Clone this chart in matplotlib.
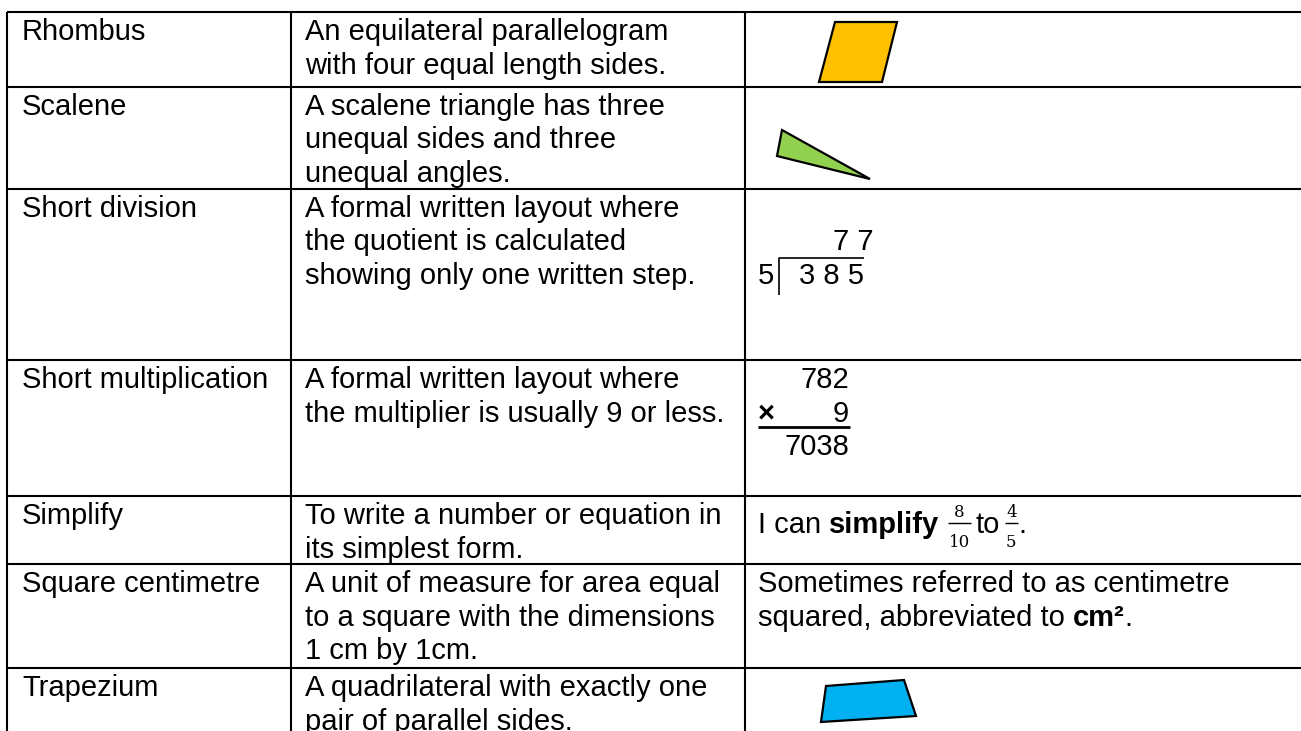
import matplotlib
matplotlib.use('Agg')
import matplotlib.pyplot as plt
from matplotlib.patches import Polygon

plt.rcParams['font.family'] = ['Liberation Sans', 'DejaVu Sans']

# table content
terms = ["Rhombus", "Scalene", "Short division", "Short multiplication",
         "Simplify", "Square centimetre", "Trapezium"]
definitions = [
    ["An equilateral parallelogram", "with four equal length sides."],
    ["A scalene triangle has three", "unequal sides and three", "unequal angles."],
    ["A formal written layout where", "the quotient is calculated",
     "showing only one written step."],
    ["A formal written layout where", "the multiplier is usually 9 or less."],
    ["To write a number or equation in", "its simplest form."],
    ["A unit of measure for area equal", "to a square with the dimensions", "1 cm by 1cm."],
    ["A quadrilateral with exactly one", "pair of parallel sides."],
]
division_quotient = "7 7"
division_divisor = "5"
division_dividend = "3 8 5"
mult_top = "782"
mult_by = "9"
mult_result = "7038"
simplify_fracs = [("8", "10"), ("4", "5")]
cm_lines = ["Sometimes referred to as centimetre", "squared, abbreviated to"]

# illustrations (pixel coords)
rhombus_pts = [(835, 22), (897, 22), (882, 82), (819, 82)]
triangle_pts = [(782, 130), (777, 156), (870, 179)]
trapezium_pts = [(826, 686), (904, 680), (916, 716), (821, 722)]

row_tops = [12, 87, 189, 360, 496, 564, 668]
col_edges = [7, 291, 745]
text_x = [22, 305, 758]

W, H = 1301, 731
FS = 21
LEAD = 33.5
PAD = 28

fig = plt.figure(figsize=(W / 100, H / 100), dpi=100)
ax = fig.add_axes([0, 0, 1, 1])
ax.set_xlim(0, W)
ax.set_ylim(H, 0)
ax.axis('off')
renderer = fig.canvas.get_renderer()

# grid
for top in row_tops:
    ax.plot([col_edges[0], W], [top, top], color='black', lw=1.5, solid_capstyle='butt')
for x in col_edges:
    ax.plot([x, x], [row_tops[0], H], color='black', lw=1.5, solid_capstyle='butt')


def txt(x, y, s, **kw):
    kw.setdefault('fontsize', FS)
    return ax.text(x, y, s, va='baseline', color='black', **kw)


def width(s, **kw):
    t = txt(0, 0, s, **kw)
    w = t.get_window_extent(renderer).width
    t.remove()
    return w


space = width("a a") - width("aa")

for i, top in enumerate(row_tops):
    txt(text_x[0], top + PAD, terms[i])
    for j, line in enumerate(definitions[i]):
        txt(text_x[1], top + PAD + j * LEAD, line)

# shapes
for pts, col in [(rhombus_pts, '#FFC000'), (triangle_pts, '#92D050'),
                 (trapezium_pts, '#00B0F0')]:
    ax.add_patch(Polygon(pts, closed=True, fc=col, ec='black', lw=1.6, joinstyle='miter'))

# short division
y2 = row_tops[2] + PAD + LEAD
y3 = row_tops[2] + PAD + 2 * LEAD
txt(833, y2, division_quotient)
txt(text_x[2], y3, division_divisor)
txt(799, y3, division_dividend)
ax.plot([779, 779, 864], [295, 258, 258], color='black', lw=1.2, solid_capstyle='butt')

# short multiplication
ym = row_tops[3] + PAD
txt(849, ym, mult_top, ha='right')
txt(849, ym + LEAD, mult_by, ha='right')
txt(text_x[2], ym + LEAD, "\u00d7", fontweight='bold')
ax.plot([758, 850], [427, 427], color='black', lw=2, solid_capstyle='butt')
txt(849, ym + 2 * LEAD, mult_result, ha='right')

# simplify example
ys = 533
x = text_x[2]
t = txt(x, ys, "I can")
x += t.get_window_extent(renderer).width + space
t = txt(x, ys, "simplify", fontweight='bold')
x += t.get_window_extent(renderer).width + space
frac_kw = dict(fontsize=12, family='DejaVu Serif')
for k, (num, den) in enumerate(simplify_fracs):
    fw = max(width(num, **frac_kw), width(den, **frac_kw)) + 2
    ax.text(x + fw / 2, ys - 16, num, ha='center', va='baseline', **frac_kw)
    ax.text(x + fw / 2, ys + 14, den, ha='center', va='baseline', **frac_kw)
    ax.plot([x, x + fw], [ys - 10, ys - 10], color='black', lw=1, solid_capstyle='butt')
    x += fw + space * 0.6
    if k == 0:
        t = txt(x, ys, "to")
        x += t.get_window_extent(renderer).width + space * 0.6
txt(x - space * 0.5, ys, ".")

# square centimetre example
yc = row_tops[5] + PAD
txt(text_x[2], yc, cm_lines[0])
t = txt(text_x[2], yc + LEAD, cm_lines[1])
x = text_x[2] + t.get_window_extent(renderer).width + space
t = txt(x, yc + LEAD, "cm\u00b2", fontweight='bold')
x += t.get_window_extent(renderer).width
txt(x, yc + LEAD, ".")

fig.savefig('out.png', dpi=100)
